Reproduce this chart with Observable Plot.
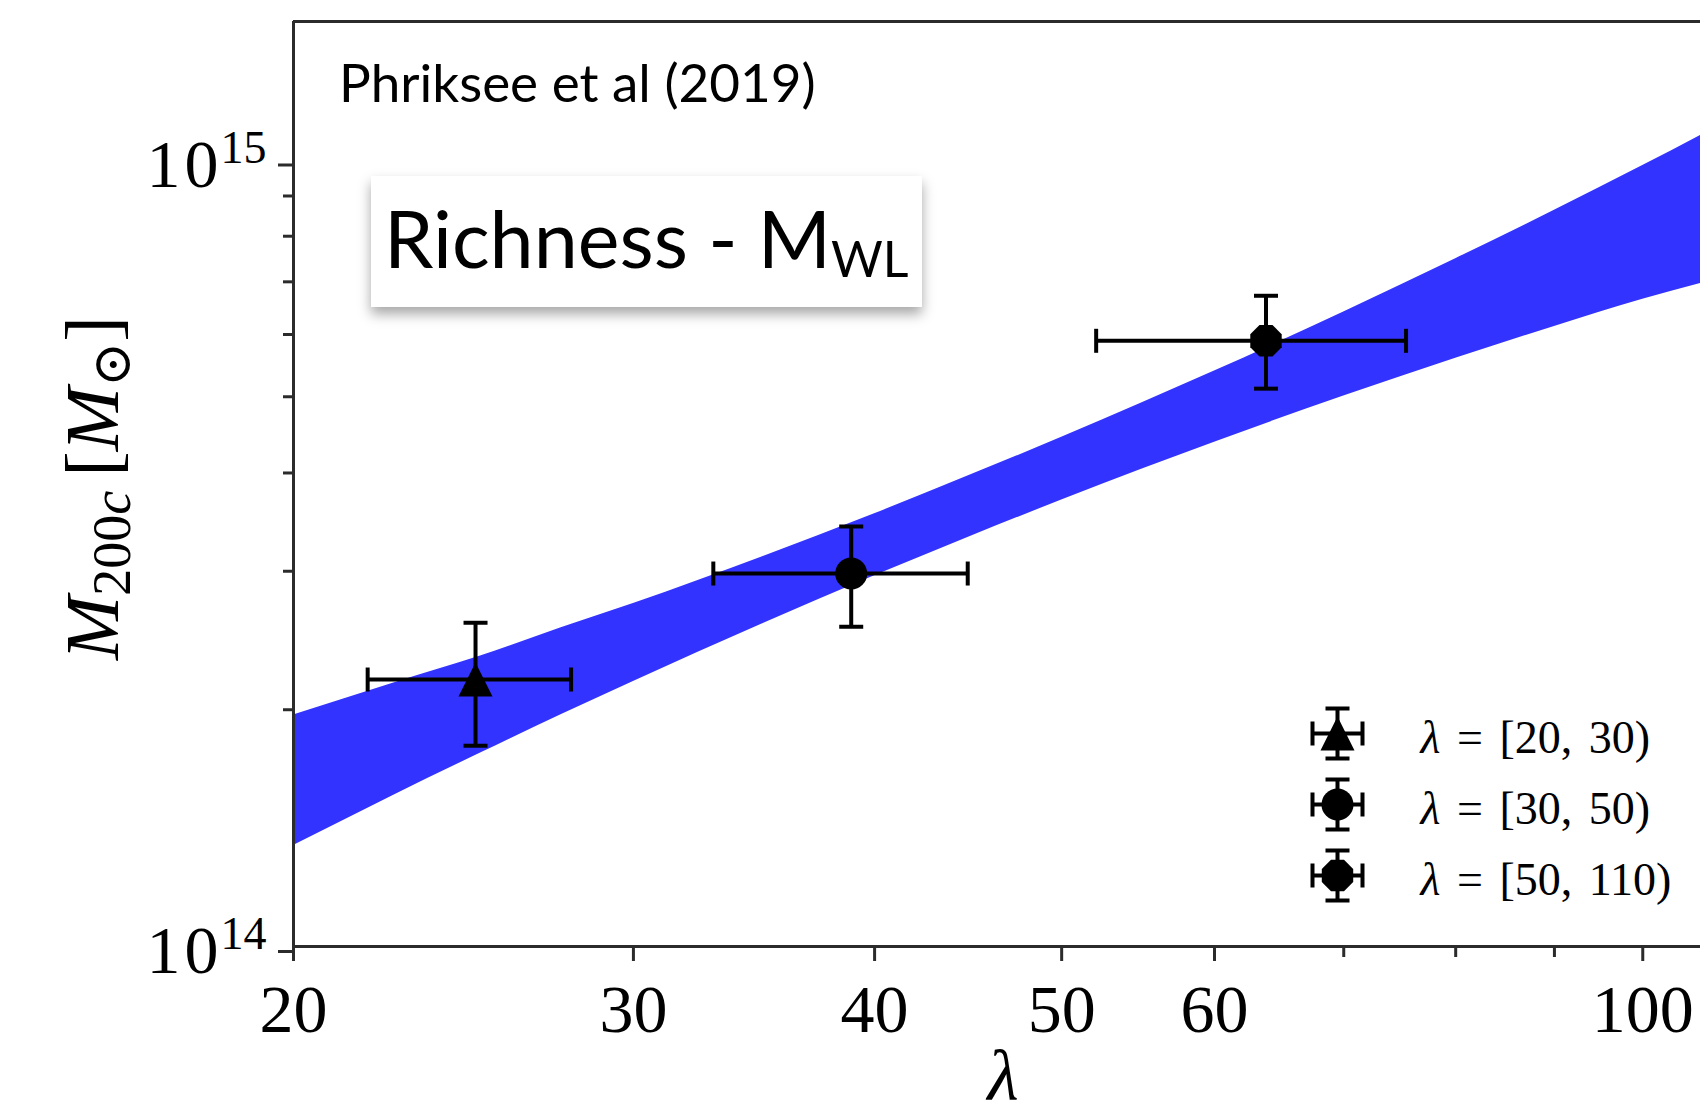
<!DOCTYPE html>
<html>
<head>
<meta charset="utf-8">
<script src="https://cdn.jsdelivr.net/npm/d3@7"></script>
<script src="https://cdn.jsdelivr.net/npm/@observablehq/plot@0.6"></script>
<style>
  html, body { margin: 0; padding: 0; background: #fff; }
  #chart { position: relative; width: 1700px; height: 1120px; overflow: hidden; background: #fff; }
  #chart > svg.main { position: absolute; left: 0; top: 0; }
  #chart > svg.legend { position: absolute; left: 1250px; top: 680px; word-spacing: 5px; }
  .source {
    position: absolute; left: 339px; top: 55px;
    font-family: Lato, "Open Sans", sans-serif; font-size: 53px; line-height: 1;
    color: #000; white-space: nowrap;
  }
  .badge {
    position: absolute; left: 371px; top: 176px; width: 551px; height: 131px;
    background: #fff; box-shadow: 0 7px 12px rgba(0, 0, 0, 0.35);
  }
  .badge .t {
    position: absolute; left: 13px; top: 22px;
    font-family: Lato, "Open Sans", sans-serif; font-size: 79px; line-height: 1;
    color: #000; white-space: nowrap;
  }
  .badge .t sub { font-size: 50px; vertical-align: -9px; line-height: 0; }
</style>
</head>
<body>
<div id="chart"></div>
<script>
// Richness bins: centre, error-bar extent and marker per bin
const lambdaCenter = [24.85, 38.9, 63.8];
const lambdaLow    = [21.85, 33.0, 52.1];
const lambdaHigh   = [27.85, 44.7, 75.4];
const massCenter   = [2.185e14, 2.98e14, 5.89e14];
const massLow      = [1.80e14, 2.55e14, 5.12e14];
const massHigh     = [2.58e14, 3.42e14, 6.72e14];
const binLabels    = ["λ = [20, 30)", "λ = [30, 50)", "λ = [50, 110)"];
const binMarkers   = ["triangle", "circle", "octagon"];

// Scaling-relation confidence band (lower / upper edge)
const bandLambda = [20, 22.5, 25, 27.5, 30, 35, 40, 45, 50, 55, 60, 70, 80, 90, 100, 108];
const bandUpper  = [1.97e14, 2.16e14, 2.34e14, 2.54e14, 2.73e14, 3.13e14, 3.55e14, 3.99e14,
                    4.44e14, 4.91e14, 5.39e14, 6.41e14, 7.49e14, 8.63e14, 9.84e14, 10.86e14];
const bandLower  = [1.344e14, 1.554e14, 1.762e14, 1.969e14, 2.173e14, 2.573e14, 2.960e14, 3.334e14,
                    3.695e14, 4.044e14, 4.378e14, 5.010e14, 5.597e14, 6.143e14, 6.651e14, 7.000e14];

// Axes
const lambdaDomain     = [20, 107.13];
const massDomain       = [1e14, 1.5e15];
const lambdaTicks      = [20, 30, 40, 50, 60, 100];
const lambdaMinorTicks = [70, 80, 90];
const massTicks        = [1e14, 1e15];
const massMinorTicks   = [2e14, 3e14, 4e14, 5e14, 6e14, 7e14, 8e14, 9e14];
const xTitle = "λ";
const yTitle = "M200c [M⊙]";

const sourceNote = "Phriksee et al (2019)";
const badgeText = "Richness - M";
const badgeSub = "WL";

const serif = "'Liberation Serif', 'DejaVu Serif', serif";
const ink = "#2b2b2b";
const barWidth = 4;
const tickFont = 68;

const points = lambdaCenter.map((x, i) => ({
  x, xlo: lambdaLow[i], xhi: lambdaHigh[i],
  y: massCenter[i], ylo: massLow[i], yhi: massHigh[i],
  marker: binMarkers[i], label: binLabels[i]
}));
const band = bandLambda.map((l, i) => ({lambda: l, lower: bandLower[i], upper: bandUpper[i]}));

// Custom marker shapes (size -> radius like Plot's own symbols)
const rad = size => Math.sqrt(size / Math.PI);
const capV = {draw(ctx, size) { const h = rad(size); ctx.moveTo(0, -h); ctx.lineTo(0, h); }};
const capH = {draw(ctx, size) { const h = rad(size); ctx.moveTo(-h, 0); ctx.lineTo(h, 0); }};
const triangleUp = {draw(ctx, size) {
  const r = rad(size);
  ctx.moveTo(0, -r); ctx.lineTo(r, r); ctx.lineTo(-r, r); ctx.closePath();
}};
const octagon = {draw(ctx, size) {
  const r = rad(size);
  for (let k = 0; k < 8; ++k) {
    const a = (k + 0.5) * Math.PI / 4;
    const px = r * Math.cos(a), py = r * Math.sin(a);
    if (k === 0) ctx.moveTo(px, py); else ctx.lineTo(px, py);
  }
  ctx.closePath();
}};
const errCross = {draw(ctx, size) {
  const a = rad(size), c = 12;
  ctx.moveTo(-a, 0); ctx.lineTo(a, 0);
  ctx.moveTo(0, -a); ctx.lineTo(0, a);
  ctx.moveTo(-a, -c); ctx.lineTo(-a, c);
  ctx.moveTo(a, -c); ctx.lineTo(a, c);
  ctx.moveTo(-c, -a); ctx.lineTo(c, -a);
  ctx.moveTo(-c, a); ctx.lineTo(c, a);
}};
const symbolFor = {triangle: triangleUp, circle: "circle", octagon};
const radiusFor = {triangle: 17, circle: 16, octagon: 17};

const markerMarks = (data, opts) => binMarkers.map(m =>
  Plot.dot(data.filter(d => d.marker === m), {
    ...opts, symbol: symbolFor[m], r: radiusFor[m], fill: "black"
  })
);

const chart = Plot.plot({
  width: 1700, height: 1120,
  marginLeft: 293, marginRight: 0, marginTop: 21, marginBottom: 174,
  style: {fontFamily: serif, fontSize: `${tickFont}px`, background: "#fff", overflow: "visible", color: "#000"},
  x: {type: "log", domain: lambdaDomain},
  y: {type: "log", domain: massDomain},
  marks: [
    Plot.areaY(band, {x: "lambda", y1: "lower", y2: "upper", fill: "#3333ff",
      curve: "monotone-x", clip: true}),

    // error bars with caps
    Plot.ruleY(points, {x1: "xlo", x2: "xhi", y: "y", stroke: "black", strokeWidth: barWidth}),
    Plot.ruleX(points, {x: "x", y1: "ylo", y2: "yhi", stroke: "black", strokeWidth: barWidth}),
    Plot.dot(points, {x: "xlo", y: "y", symbol: capV, r: 12, stroke: "black", strokeWidth: barWidth}),
    Plot.dot(points, {x: "xhi", y: "y", symbol: capV, r: 12, stroke: "black", strokeWidth: barWidth}),
    Plot.dot(points, {x: "x", y: "ylo", symbol: capH, r: 12, stroke: "black", strokeWidth: barWidth}),
    Plot.dot(points, {x: "x", y: "yhi", symbol: capH, r: 12, stroke: "black", strokeWidth: barWidth}),
    ...markerMarks(points, {x: "x", y: "y"}),

    // spines
    Plot.ruleX([lambdaDomain[0]], {stroke: ink, strokeWidth: 3}),
    Plot.ruleY([massDomain[0]], {stroke: ink, strokeWidth: 3}),
    Plot.ruleY([massDomain[1]], {stroke: ink, strokeWidth: 3}),

    // axes
    Plot.axisX(lambdaTicks, {tickSize: 15, tickPadding: 22, tickFormat: d => `${d}`,
      stroke: ink, strokeWidth: 3, fontSize: tickFont, label: null}),
    Plot.axisX(lambdaMinorTicks, {tickSize: 11, tickFormat: () => "",
      stroke: ink, strokeWidth: 3, label: null}),
    Plot.axisY(massTicks, {tickSize: 15, tickPadding: 12,
      tickFormat: d => `10^${Math.round(Math.log10(d))}`,
      stroke: ink, strokeWidth: 3, fontSize: tickFont, dy: 5, label: null}),
    Plot.axisY(massMinorTicks, {tickSize: 10, tickFormat: () => "",
      stroke: ink, strokeWidth: 3, label: null}),

    // axis titles
    Plot.text([xTitle], {text: d => d, frameAnchor: "bottom", textAnchor: "middle", lineAnchor: "middle",
      dx: 6, dy: 130, fontSize: 72, fontStyle: "italic"}),
    Plot.text([yTitle], {text: d => d, frameAnchor: "left", textAnchor: "middle", lineAnchor: "middle",
      dx: -200, dy: 4, rotate: -90, fontSize: 77})
  ]
});
chart.classList.add("main");

// powers of ten on the y tick labels
d3.select(chart).selectAll("text").each(function() {
  const s = this.textContent;
  if (!s.includes("^")) return;
  const [base, exp] = s.split("^");
  const t = d3.select(this).text(null);
  t.append("tspan").text(base[0]);
  t.append("tspan").attr("dx", 4).text(base.slice(1));
  t.append("tspan").attr("font-size", 46).attr("dx", 2).attr("dy", -24).text(exp);
});

// y title with math-style italics and subscripts
d3.select(chart).selectAll("text").each(function() {
  if (this.textContent !== yTitle) return;
  const t = d3.select(this).text(null);
  t.append("tspan").attr("font-style", "italic").text("M");
  t.append("tspan").attr("font-size", 54).attr("dy", 12).text("200");
  t.append("tspan").attr("font-size", 54).attr("font-style", "italic").text("c");
  t.append("tspan").attr("dy", -12).attr("dx", 14).text("[");
  t.append("tspan").attr("font-style", "italic").text("M");
  t.append("tspan").attr("font-size", 54).attr("dy", 12).attr("font-family", "'DejaVu Serif', serif").text("⊙");
  t.append("tspan").attr("dy", -12).text("]");
});

// legend
const legendData = binLabels.map((label, i) => ({label, marker: binMarkers[i]}));
const legend = Plot.plot({
  width: 440, height: 240, margin: 0,
  style: {fontFamily: serif, fontSize: "46px", background: "transparent", overflow: "visible", color: "#000"},
  y: {type: "point", domain: binLabels, range: [53, 195], padding: 0, axis: null},
  marks: [
    Plot.dot(legendData, {y: "label", frameAnchor: "left", dx: 87, symbol: errCross, r: 25,
      stroke: "black", strokeWidth: barWidth}),
    ...markerMarks(legendData, {y: "label", frameAnchor: "left", dx: 87}),
    Plot.text(legendData, {y: "label", text: "label", frameAnchor: "left", dx: 170, dy: 5,
      textAnchor: "start", lineAnchor: "middle", fontSize: 46})
  ]
});
legend.classList.add("legend");
d3.select(legend).selectAll("text").each(function() {
  const s = this.textContent;
  if (!s.startsWith("λ")) return;
  const t = d3.select(this).text(null);
  t.append("tspan").attr("font-style", "italic").text("λ");
  t.append("tspan").text(s.slice(1));
});

const root = document.getElementById("chart");
root.append(chart);
root.append(legend);

const note = document.createElement("div");
note.className = "source";
note.textContent = sourceNote;
root.append(note);

const badge = document.createElement("div");
badge.className = "badge";
const bt = document.createElement("span");
bt.className = "t";
bt.append(badgeText);
const sub = document.createElement("sub");
sub.textContent = badgeSub;
bt.append(sub);
badge.append(bt);
root.append(badge);
</script>
</body>
</html>
